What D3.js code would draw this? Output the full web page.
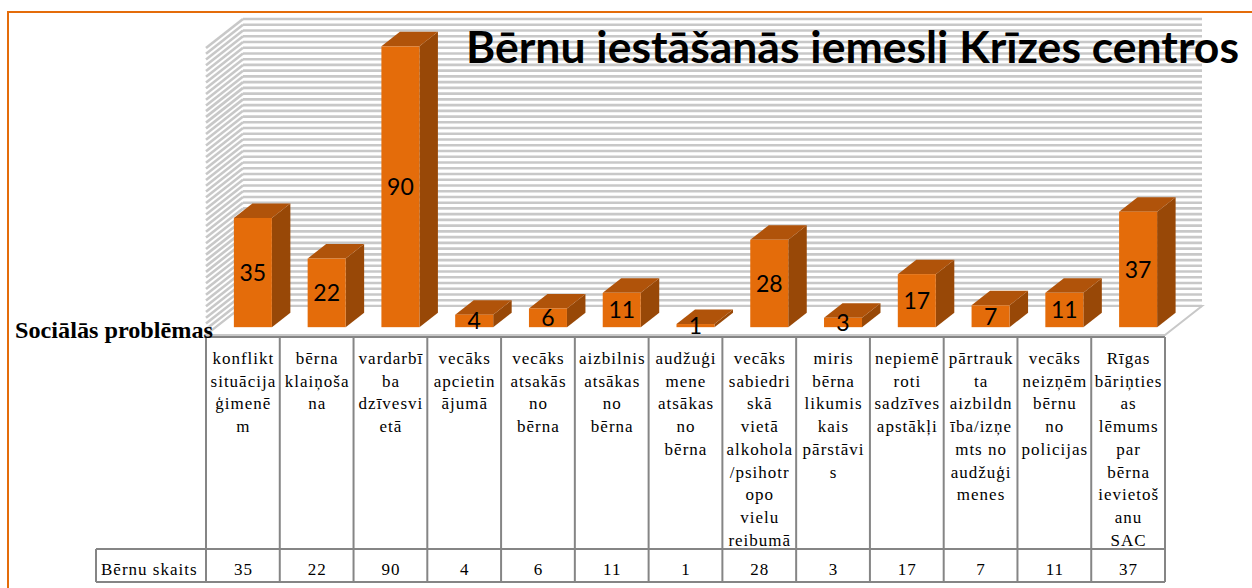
<!DOCTYPE html>
<html>
<head>
<meta charset="utf-8">
<script src="https://cdn.jsdelivr.net/npm/d3@7"></script>
<style>
  html, body { margin: 0; padding: 0; background: #ffffff; }
  svg { display: block; }
</style>
</head>
<body>
<svg id="chart" width="1252" height="588"></svg>
<script>
// ---------- data ----------
const chartTitle = "Bērnu iestāšanās iemesli Krīzes centros";
const axisTitle = "Sociālās problēmas";
const rowLabel = "Bērnu skaits";
const categories = [
  "konflikt\nsituācija\nģimenē\nm",
  "bērna\nklaiņoša\nna",
  "vardarbī\nba\ndzīvesvi\netā",
  "vecāks\napcietin\nājumā",
  "vecāks\natsakās\nno\nbērna",
  "aizbilnis\natsākas\nno\nbērna",
  "audžuģi\nmene\natsākas\nno\nbērna",
  "vecāks\nsabiedri\nskā\nvietā\nalkohola\n/psihotr\nopo\nvielu\nreibumā",
  "miris\nbērna\nlikumis\nkais\npārstāvi\ns",
  "nepiemē\nroti\nsadzīves\napstākļi",
  "pārtrauk\nta\naizbildn\nība/izņe\nmts no\naudžuģi\nmenes",
  "vecāks\nneizņēm\nbērnu\nno\npolicijas",
  "Rīgas\nbāriņties\nas\nlēmums\npar\nbērna\nievietoš\nanu\nSAC"
];
const values = [35, 22, 90, 4, 6, 11, 1, 28, 3, 17, 7, 11, 37];
const valueDomain = [0, 100];

// ---------- layout ----------
const svg = d3.select("#chart");
const DX = 37, DY = 29;          // full depth offset of floor
const floorY = 335;              // front edge of floor
const zFront = 0.27, zBack = 0.77;
const barW = 38;

const x = d3.scaleBand().domain(d3.range(categories.length)).range([206, 1165]).padding(0);
const yWall = d3.scaleLinear().domain(valueDomain).range([floorY - DY, 19]);
const hBar = d3.scaleLinear().domain(valueDomain).range([0, 312]);

// outer border
svg.append("rect").attr("x", 8).attr("y", 12).attr("width", 1300).attr("height", 700)
  .attr("fill", "none").attr("stroke", "#E46C0A").attr("stroke-width", 2);

const x0 = x.range()[0], x1 = x.range()[1];
const wallTop = yWall(valueDomain[1]), wallBase = yWall(valueDomain[0]);

// back wall + side wall
const walls = svg.append("g");
walls.append("rect").attr("x", x0 + DX).attr("y", wallTop).attr("width", x1 - x0).attr("height", wallBase - wallTop)
  .attr("fill", "#ffffff");
const ticks = yWall.ticks(50);
walls.selectAll("line.gb").data(ticks).join("line").attr("class", "gb")
  .attr("x1", x0 + DX).attr("x2", x1 + DX)
  .attr("y1", d => yWall(d)).attr("y2", d => yWall(d))
  .attr("stroke", "#c8c8c8").attr("stroke-width", 2.6);
walls.selectAll("line.gs").data(ticks).join("line").attr("class", "gs")
  .attr("x1", x0).attr("x2", x0 + DX)
  .attr("y1", d => yWall(d) + DY).attr("y2", d => yWall(d))
  .attr("stroke", "#c8c8c8").attr("stroke-width", 2.6);

// floor
svg.append("polygon")
  .attr("points", [[x0, floorY], [x1, floorY], [x1 + DX, floorY - DY], [x0 + DX, floorY - DY]].map(p => p.join(",")).join(" "))
  .attr("fill", "#ffffff").attr("stroke", "#c8c8c8").attr("stroke-width", 2);

// bars
const ddx = (zBack - zFront) * DX, ddy = (zBack - zFront) * DY;
const bars = svg.append("g").selectAll("g").data(values).join("g");
function geo(v, i) {
  const bx0 = x(i) + (x.bandwidth() - barW) / 2 + zFront * DX;
  const bx1 = bx0 + barW;
  const yb = floorY - zFront * DY;
  const yt = yb - hBar(v);
  return { bx0, bx1, yb, yt };
}
bars.append("polygon").attr("fill", "#984807").attr("points", (v, i) => {
  const g = geo(v, i);
  return [[g.bx1, g.yt], [g.bx1 + ddx, g.yt - ddy], [g.bx1 + ddx, g.yb - ddy], [g.bx1, g.yb]].map(p => p.join(",")).join(" ");
});
bars.append("polygon").attr("fill", "#B0530A").attr("points", (v, i) => {
  const g = geo(v, i);
  return [[g.bx0, g.yt], [g.bx1, g.yt], [g.bx1 + ddx, g.yt - ddy], [g.bx0 + ddx, g.yt - ddy]].map(p => p.join(",")).join(" ");
});
bars.append("rect").attr("fill", "#E46C0A")
  .attr("x", (v, i) => geo(v, i).bx0).attr("y", (v, i) => geo(v, i).yt)
  .attr("width", barW).attr("height", (v, i) => Math.max(0.5, geo(v, i).yb - geo(v, i).yt));
bars.append("text")
  .attr("x", (v, i) => geo(v, i).bx0 + barW / 2)
  .attr("y", (v, i) => (geo(v, i).yt + geo(v, i).yb) / 2)
  .attr("dy", "0.36em")
  .attr("text-anchor", "middle")
  .attr("font-family", "Lato, 'Open Sans', sans-serif").attr("font-size", 23).attr("fill", "#000")
  .text(v => v);

// title
svg.append("text").attr("x", 466).attr("y", 63)
  .attr("font-family", "Lato, 'Open Sans', sans-serif").attr("font-weight", "bold").attr("font-size", 44)
  .attr("textLength", 773).attr("lengthAdjust", "spacingAndGlyphs")
  .attr("fill", "#000").text(chartTitle);

// table
const lineCol = "#858585";
const tbl = svg.append("g").attr("stroke", lineCol).attr("stroke-width", 2).attr("fill", "none");
const tTop = 337, rowY = 549, tBot = 582, rowX = 96;
tbl.append("line").attr("x1", x0).attr("x2", x1).attr("y1", tTop).attr("y2", tTop);
tbl.append("line").attr("x1", rowX).attr("x2", x1).attr("y1", rowY).attr("y2", rowY);
tbl.append("line").attr("x1", rowX).attr("x2", x1).attr("y1", tBot).attr("y2", tBot);
tbl.append("line").attr("x1", rowX).attr("x2", rowX).attr("y1", rowY).attr("y2", tBot);
tbl.selectAll("line.v").data(d3.range(categories.length + 1)).join("line").attr("class", "v")
  .attr("x1", i => i < categories.length ? x(i) : x1)
  .attr("x2", i => i < categories.length ? x(i) : x1)
  .attr("y1", tTop).attr("y2", tBot);

const serif = "'Liberation Serif', 'Times New Roman', serif";
const hdr = svg.append("g").selectAll("text").data(categories).join("text")
  .attr("font-family", serif).attr("font-size", 17).attr("fill", "#000")
  .attr("text-anchor", "middle").style("letter-spacing", "1px");
hdr.each(function (c, i) {
  d3.select(this).selectAll("tspan").data(c.split("\n")).join("tspan")
    .attr("x", x(i) + x.bandwidth() / 2 + 0.5)
    .attr("y", (d, k) => 364 + k * 22.7)
    .text(d => d);
});
svg.append("g").selectAll("text").data(values).join("text")
  .attr("x", (v, i) => x(i) + x.bandwidth() / 2 + 0.5).attr("y", 575)
  .attr("font-family", serif).attr("font-size", 17).attr("fill", "#000")
  .attr("text-anchor", "middle").style("letter-spacing", "1px")
  .text(v => v);
svg.append("text").attr("x", 101).attr("y", 575)
  .attr("font-family", serif).attr("font-size", 17).attr("fill", "#000")
  .style("letter-spacing", "1px").text(rowLabel);

// axis title
svg.append("text").attr("x", 15).attr("y", 338)
  .attr("font-family", serif).attr("font-weight", "bold").attr("font-size", 23)
  .attr("textLength", 198).attr("lengthAdjust", "spacingAndGlyphs")
  .attr("fill", "#000").text(axisTitle);
</script>
</body>
</html>
